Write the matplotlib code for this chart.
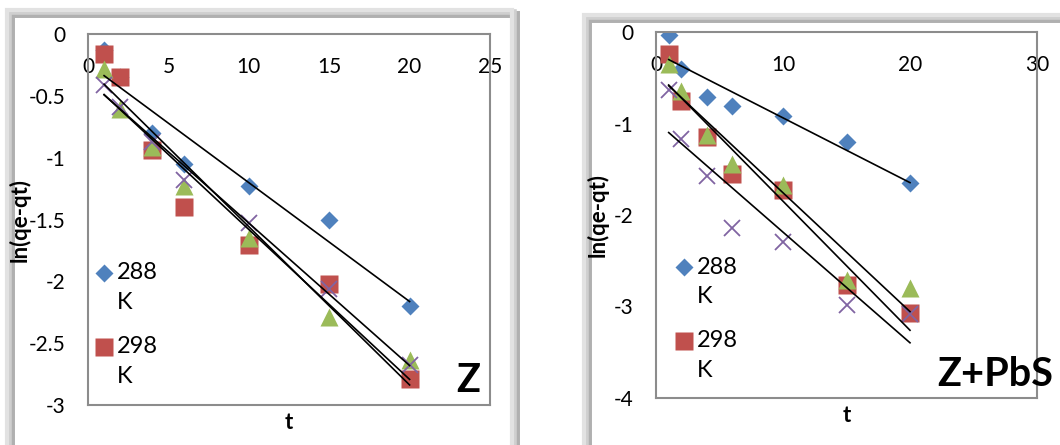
import matplotlib.pyplot as plt
import numpy as np
from matplotlib.patches import Rectangle
from matplotlib.ticker import FuncFormatter

plt.rcParams['font.family'] = ['Lato', 'DejaVu Sans']
plt.rcParams['axes.unicode_minus'] = False

# time (min) and ln(qe-qt)
t = [1, 2, 4, 6, 10, 15, 20]
temps = ['288', '298', '308', '318']

# panel Z
z_288 = [-0.13, -0.35, -0.80, -1.05, -1.23, -1.50, -2.20]
z_298 = [-0.16, -0.35, -0.94, -1.40, -1.71, -2.02, -2.79]
z_308 = [-0.28, -0.61, -0.91, -1.23, -1.65, -2.29, -2.64]
z_318 = [-0.41, -0.59, -0.87, -1.18, -1.53, -2.06, -2.68]

# panel Z+PbS
zp_288 = [-0.03, -0.40, -0.71, -0.81, -0.92, -1.20, -1.65]
zp_298 = [-0.24, -0.75, -1.15, -1.55, -1.73, -2.76, -3.07]
zp_308 = [-0.35, -0.64, -1.13, -1.44, -1.67, -2.71, -2.80]
zp_318 = [-0.63, -1.17, -1.57, -2.14, -2.29, -2.98, -3.08]

colors = ['#4F81BD', '#C0504D', '#9BBB59', '#8064A2']
markers = ['D', 's', '^', 'x']
sizes = [9.5, 13, 13, 12]

W, H = 1060, 445
fig = plt.figure(figsize=(W / 100, H / 100), dpi=100)


def px_axes(x0, y0, x1, y1):
    return fig.add_axes([x0 / W, 1 - y1 / H, (x1 - x0) / W, (y1 - y0) / H])


def frame(x0, y0, x1, y1):
    # chart-area border with a soft shadow, like the Excel original
    for off, c, lw in [(4, '#b0b0b0', 5), (2, '#cfcfcf', 4), (0, '#e2e2e2', 3)]:
        fig.add_artist(Rectangle(((x0 + off) / W, 1 - (y1 + off) / H), (x1 - x0) / W, (y1 - y0) / H,
                                 transform=fig.transFigure, fill=False, edgecolor=c, lw=lw,
                                 zorder=-1))


def mark(ax, i, x, y, **kw):
    if markers[i] == 'x':
        return ax.plot(x, y, ls='none', marker='x', ms=sizes[i], mew=1.3, color=colors[i], **kw)
    return ax.plot(x, y, ls='none', marker=markers[i], ms=sizes[i], mec='none', color=colors[i], **kw)


def panel(ax, series, xmax, ymin, xticks, yticks, tag, tag_x, lab_xy, leg_x):
    for i, ys in enumerate(series):
        mark(ax, i, t, ys)
    for ys in series:
        k, b = np.polyfit(t, ys, 1)
        tt = np.array([t[0], t[-1]])
        ax.plot(tt, k * tt + b, color='black', lw=1.2)
    ax.set_xlim(0, xmax)
    ax.set_ylim(ymin, 0)
    ax.set_xticks(xticks)
    ax.set_yticks(yticks)
    ax.yaxis.set_major_formatter(FuncFormatter(lambda v, p: '%g' % v))
    ax.tick_params(axis='x', bottom=False, labelbottom=False, top=False, labeltop=True,
                   length=0, pad=-31, labelsize=15)
    ax.tick_params(axis='y', length=0, pad=16, labelsize=15)
    for s in ax.spines.values():
        s.set_color('#8c8c8c')
        s.set_linewidth(1.5)
    ax.set_xlabel('t', fontsize=16, fontweight='bold', labelpad=5)
    ax.set_ylabel('ln(qe-qt)', fontsize=16, fontweight='bold')
    ax.yaxis.set_label_coords(*lab_xy)

    # legend: only the first two entries fit, text wraps as "288 / K"
    for i, (ym, yk) in enumerate([(0.357, 0.276), (0.157, 0.076)]):
        mark(ax, i, [leg_x], [ym], transform=ax.transAxes, clip_on=False)
        ax.text(leg_x + 0.033, ym, temps[i], transform=ax.transAxes, fontsize=17, va='center')
        ax.text(leg_x + 0.033, yk, 'K', transform=ax.transAxes, fontsize=17, va='center')

    ax.text(tag_x, 0.015, tag, transform=ax.transAxes, ha='right', va='bottom',
            fontsize=28.5, fontweight='bold', clip_on=False)


frame(7, 10, 512, 452)
frame(584, 15, 1070, 452)

ax1 = px_axes(88, 34, 490, 405)
panel(ax1, [z_288, z_298, z_308, z_318], 25, -3, [0, 5, 10, 15, 20, 25],
      [0, -0.5, -1, -1.5, -2, -2.5, -3], 'Z', 0.975, (-0.142, 0.5), 0.04)

ax2 = px_axes(656, 32, 1037, 398)
panel(ax2, [zp_288, zp_298, zp_308, zp_318], 30, -4, [0, 10, 20, 30],
      [0, -1, -2, -3, -4], 'Z+PbS', 1.042, (-0.125, 0.5), 0.073)

fig.savefig('out.png', dpi=100)
